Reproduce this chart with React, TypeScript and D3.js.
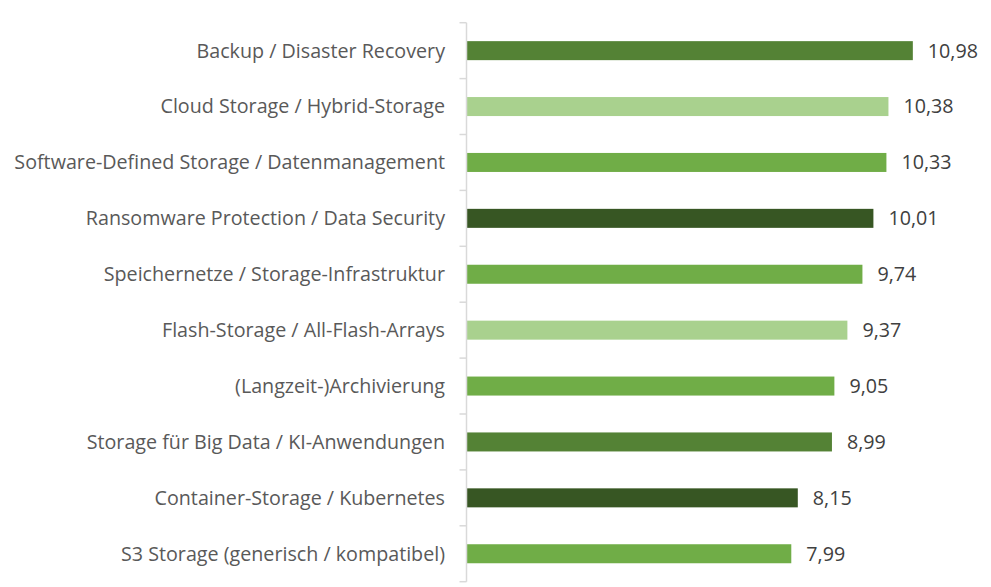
import * as d3 from "d3";
import { useEffect, useRef } from "react";

const categories = [
  "Backup / Disaster Recovery",
  "Cloud Storage / Hybrid-Storage",
  "Software-Defined Storage / Datenmanagement",
  "Ransomware Protection / Data Security",
  "Speichernetze / Storage-Infrastruktur",
  "Flash-Storage / All-Flash-Arrays",
  "(Langzeit-)Archivierung",
  "Storage für Big Data / KI-Anwendungen",
  "Container-Storage / Kubernetes",
  "S3 Storage (generisch / kompatibel)",
];

const values = [10.98, 10.38, 10.33, 10.01, 9.74, 9.37, 9.05, 8.99, 8.15, 7.99];

const barColors = [
  "#548235",
  "#A9D18E",
  "#70AD47",
  "#375623",
  "#70AD47",
  "#A9D18E",
  "#70AD47",
  "#548235",
  "#375623",
  "#70AD47",
];

type Row = { cat: string; value: number; color: string };

export default function App() {
  const svgRef = useRef<SVGSVGElement | null>(null);
  const data: Row[] = categories.map((c, i) => ({ cat: c, value: values[i], color: barColors[i] }));

  useEffect(() => {
    if (!svgRef.current) return;
    const svg = d3.select(svgRef.current);
    svg.selectAll("*").remove();

    const axisX = 466.5;
    const fontSize = "19.7px";

    const x = d3.scaleLinear().domain([0, 12]).range([axisX, axisX + 12 * 40.65]);
    const y = d3.scaleBand().domain(categories).range([22.7, 581.7]).padding(0);
    const barH = y.bandwidth() * 0.34;

    // bars
    svg
      .append("g")
      .selectAll("rect")
      .data(data)
      .enter()
      .append("rect")
      .attr("x", x(0))
      .attr("y", (d) => y(d.cat)! + (y.bandwidth() - barH) / 2)
      .attr("width", (d) => x(d.value) - x(0))
      .attr("height", barH)
      .style("fill", (d) => d.color);

    // axis line + ticks at band edges
    const axis = svg.append("g").attr("stroke", "#D9D9D9").attr("stroke-width", 1.5);
    axis
      .append("line")
      .attr("x1", axisX)
      .attr("x2", axisX)
      .attr("y1", y.range()[0])
      .attr("y2", y.range()[1]);
    const edges = [...categories.map((c) => y(c)!), y.range()[1]];
    axis
      .selectAll("line.tick")
      .data(edges)
      .enter()
      .append("line")
      .attr("class", "tick")
      .attr("x1", axisX - 7)
      .attr("x2", axisX)
      .attr("y1", (d) => d)
      .attr("y2", (d) => d);

    // category labels
    svg
      .append("g")
      .selectAll("text")
      .data(data)
      .enter()
      .append("text")
      .attr("x", 445)
      .attr("y", (d) => y(d.cat)! + y.bandwidth() / 2)
      .attr("dy", "0.35em")
      .attr("text-anchor", "end")
      .style("font-family", "'Open Sans', sans-serif")
      .style("font-size", fontSize)
      .style("fill", "#595959")
      .text((d) => d.cat);

    // value labels
    svg
      .append("g")
      .selectAll("text")
      .data(data)
      .enter()
      .append("text")
      .attr("x", (d) => x(d.value) + 15)
      .attr("y", (d) => y(d.cat)! + y.bandwidth() / 2)
      .attr("dy", "0.35em")
      .style("font-family", "'Open Sans', sans-serif")
      .style("font-size", fontSize)
      .style("fill", "#404040")
      .text((d) => d.value.toFixed(2).replace(".", ","));
  }, []);

  return (
    <svg
      ref={svgRef}
      width={991}
      height={587}
      style={{ position: "absolute", left: 0, top: 0, background: "#fff" }}
    />
  );
}
